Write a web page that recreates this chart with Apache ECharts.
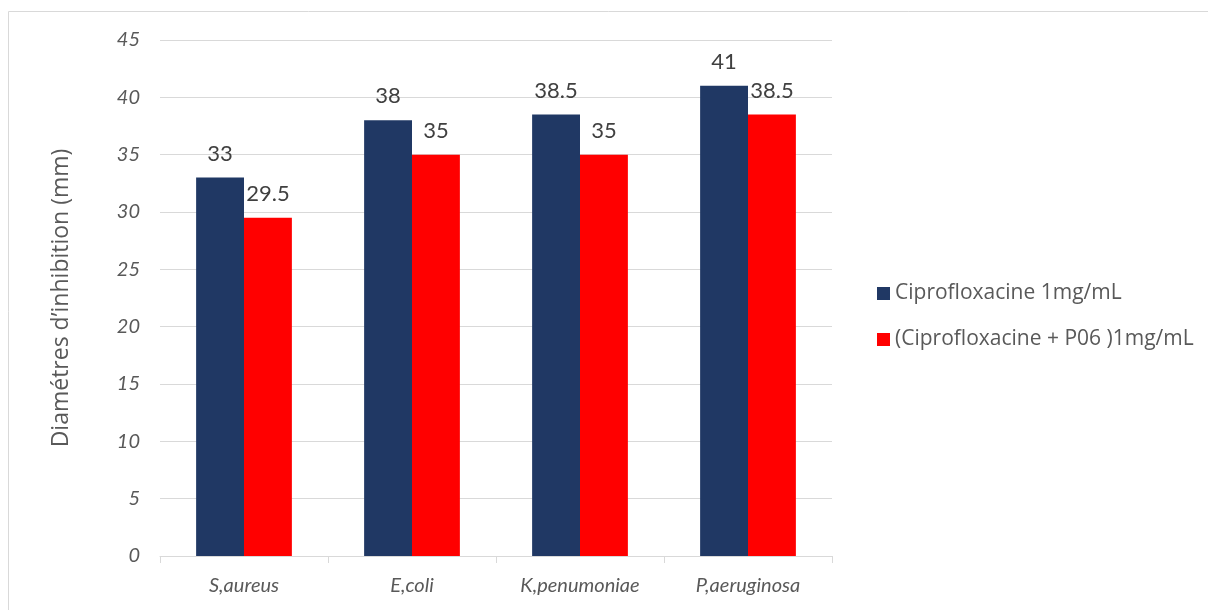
<!DOCTYPE html>
<html>
<head>
<meta charset="utf-8">
<script src="https://cdn.jsdelivr.net/npm/echarts@6/dist/echarts.min.js"></script>
<style>
  html, body { margin: 0; padding: 0; background: #fff; }
  #chart { width: 1208px; height: 610px; }
</style>
</head>
<body>
<div id="chart"></div>
<script>
// Inhibition diameters per bacterial strain
const categories = ['S,aureus', 'E,coli', 'K,penumoniae', 'P,aeruginosa'];
const seriesNames = ['Ciprofloxacine 1mg/mL', '(Ciprofloxacine + P06 )1mg/mL'];
const cipro = [33, 38, 38.5, 41];
const ciproP06 = [29.5, 35, 35, 38.5];
const yTicks = { min: 0, max: 45, interval: 5 };

const FONT = 'Lato, "Noto Sans", sans-serif';
const WIDE = '"Open Sans", "Noto Sans", sans-serif';
const chart = echarts.init(document.getElementById('chart'));

const labelStyle = {
  show: true,
  position: 'top',
  distance: 13,
  color: '#404040',
  fontSize: 22,
  fontFamily: FONT
};

chart.setOption({
  animation: false,
  graphic: [{
    // chart frame (runs off the right and bottom edges)
    type: 'rect',
    shape: { x: 8.5, y: 11.5, width: 1220, height: 620 },
    style: { fill: 'none', stroke: '#d9d9d9', lineWidth: 1 },
    silent: true
  }],
  grid: { left: 160, right: 376, top: 40, bottom: 54 },
  legend: {
    orient: 'vertical',
    left: 872,
    top: 278,
    itemWidth: 13,
    itemHeight: 13,
    itemGap: 25,
    icon: 'rect',
    textStyle: { color: '#595959', fontSize: 21, fontFamily: WIDE },
    data: seriesNames
  },
  xAxis: {
    type: 'category',
    data: categories,
    axisLine: { lineStyle: { color: '#d9d9d9', width: 1 } },
    axisTick: { show: true, length: 7, lineStyle: { color: '#d9d9d9' } },
    axisLabel: {
      color: '#595959',
      fontSize: 20,
      fontStyle: 'italic',
      fontFamily: FONT,
      margin: 20
    }
  },
  yAxis: {
    type: 'value',
    min: yTicks.min,
    max: yTicks.max,
    interval: yTicks.interval,
    name: 'Diamétres d\u2019inhibition (mm)',
    nameLocation: 'middle',
    nameGap: 87,
    nameTextStyle: { color: '#595959', fontSize: 23, fontFamily: WIDE },
    axisLine: { show: false },
    axisTick: { show: false },
    axisLabel: {
      color: '#595959',
      fontSize: 20,
      fontStyle: 'italic',
      fontFamily: FONT,
      margin: 20
    },
    splitLine: { lineStyle: { color: '#d9d9d9', width: 1 } }
  },
  series: [
    {
      name: seriesNames[0],
      type: 'bar',
      data: cipro,
      barGap: '0%',
      barCategoryGap: '43%',
      itemStyle: { color: '#203864' },
      label: labelStyle
    },
    {
      name: seriesNames[1],
      type: 'bar',
      data: ciproP06,
      itemStyle: { color: '#ff0000' },
      label: labelStyle
    }
  ]
});
</script>
</body>
</html>
